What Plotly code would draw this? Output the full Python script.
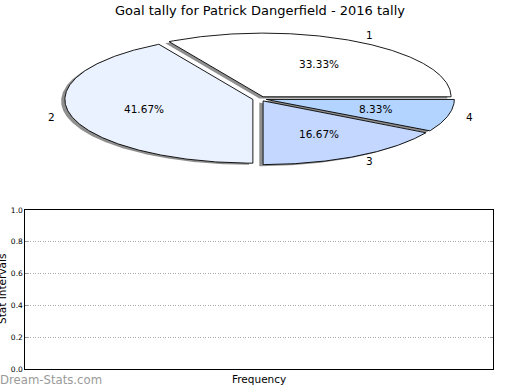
import numpy as np
import plotly.graph_objects as go

W, H = 520, 390

# ---------------- data ----------------
chart_title = "Goal tally for Patrick Dangerfield - 2016 tally"
slice_labels = ["1", "2", "3", "4"]
goal_values = [4, 5, 2, 1]
slice_colors = ["#ffffff", "#ebf2ff", "#c4d8ff", "#b3d4ff"]
ytick_vals = [0.0, 0.2, 0.4, 0.6, 0.8, 1.0]
ytick_text = ["0.0", "0.2", "0.4", "0.6", "0.8", "1.0"]
x_title = "Frequency"
y_title = "Stat Intervals"
watermark = "Dream-Stats.com"

# ---------------- style ----------------
FONT = "DejaVu Sans"
EXPLODE = 0.037
LABEL_DIST = 1.1
PCT_DIST = 0.6
SHADOW_DX, SHADOW_DY = -0.02, -0.025
SHADOW_COLOR = "#8f8f8f"


def px(x):
    return x / W


def py(y):
    return 1 - y / H


# pie axes placement (pixel geometry of the unit circle)
cx, cy, rx, ry = 259.6, 98.85, 188.0, 63.7
LIM = 1.3
pie_xdom = [px(cx - LIM * rx), px(cx + LIM * rx)]
pie_ydom = [py(cy + LIM * ry), py(cy - LIM * ry)]

fig = go.Figure()

total = float(sum(goal_values))
theta0 = 0.0
wedges = []
annots = []
for lab, v, col in zip(slice_labels, goal_values, slice_colors):
    frac = v / total
    t1 = theta0 + 360.0 * frac
    mid = np.deg2rad((theta0 + t1) / 2)
    ox, oy = EXPLODE * np.cos(mid), EXPLODE * np.sin(mid)
    n = max(2, int(abs(t1 - theta0) * 2) + 1)
    ang = np.deg2rad(np.linspace(theta0, t1, n))
    xs = np.concatenate([[ox], ox + np.cos(ang), [ox]])
    ys = np.concatenate([[oy], oy + np.sin(ang), [oy]])
    wedges.append((xs, ys, col))
    # outer label
    lx = ox + LABEL_DIST * np.cos(mid)
    ly = oy + LABEL_DIST * np.sin(mid)
    right_side = lx > 0
    annots.append(dict(x=lx, y=ly, xref="x2", yref="y2", text=lab, showarrow=False,
                       xanchor="left" if right_side else "right", yanchor="middle",
                       xshift=-2.5 if right_side else 4, yshift=1,
                       font=dict(family=FONT, size=10.5, color="black")))
    # percentage label
    tx = ox + PCT_DIST * np.cos(mid)
    ty = oy + PCT_DIST * np.sin(mid)
    annots.append(dict(x=tx, y=ty, xref="x2", yref="y2", text=f"{100 * frac:.2f}%",
                       showarrow=False, xanchor="center", yanchor="middle",
                       font=dict(family=FONT, size=10.5, color="black")))
    theta0 = t1

# shadows first (below all wedges)
for xs, ys, col in wedges:
    fig.add_trace(go.Scatter(x=xs + SHADOW_DX, y=ys + SHADOW_DY, xaxis="x2", yaxis="y2",
                             mode="lines", fill="toself", fillcolor=SHADOW_COLOR,
                             line=dict(width=0, color=SHADOW_COLOR),
                             hoverinfo="skip", showlegend=False))
for xs, ys, col in wedges:
    fig.add_trace(go.Scatter(x=xs, y=ys, xaxis="x2", yaxis="y2",
                             mode="lines", fill="toself", fillcolor=col,
                             line=dict(width=0.9, color="black"),
                             hoverinfo="skip", showlegend=False))

# empty bottom axes need a (invisible) trace to exist
fig.add_trace(go.Scatter(x=[None], y=[None], xaxis="x", yaxis="y",
                         mode="markers", showlegend=False, hoverinfo="skip"))

annots += [
    dict(x=px(260), y=py(10), xref="paper", yref="paper", text=chart_title,
         showarrow=False, xanchor="center", yanchor="middle",
         font=dict(family=FONT, size=13, color="black")),
    dict(x=px(259.3), y=py(379), xref="paper", yref="paper", text=x_title,
         showarrow=False, xanchor="center", yanchor="middle",
         font=dict(family=FONT, size=10.5, color="black")),
    dict(x=px(1.5), y=py(289.5), xref="paper", yref="paper", text=y_title,
         showarrow=False, xanchor="center", yanchor="middle", textangle=-90,
         font=dict(family=FONT, size=10.5, color="black")),
    dict(x=px(0), y=py(379.5), xref="paper", yref="paper", text=watermark,
         showarrow=False, xanchor="left", yanchor="middle", xshift=-2,
         font=dict(family=FONT, size=11.7, color="#9a9a9a")),
]

fig.update_layout(
    width=W, height=H,
    margin=dict(l=0, r=0, t=0, b=0),
    paper_bgcolor="white", plot_bgcolor="white",
    showlegend=False,
    font=dict(family=FONT, color="black"),
    xaxis=dict(domain=[px(25.3), px(492.7)], range=[0, 1], anchor="y",
               showticklabels=False, showgrid=False, zeroline=False,
               showline=True, linecolor="black", linewidth=1, mirror=True,
               ticks="", fixedrange=True, automargin=False),
    yaxis=dict(domain=[py(369.3), py(210)], range=[0, 1], anchor="x",
               tickvals=ytick_vals, ticktext=ytick_text,
               tickfont=dict(family=FONT, size=7.5, color="black"),
               showgrid=True, gridcolor="#aaaaaa", griddash="1px,1.5px", gridwidth=1,
               zeroline=False, showline=True, linecolor="black", linewidth=1,
               mirror="ticks", ticks="inside", ticklen=3, tickcolor="#999999",
               fixedrange=True, automargin=False),
    xaxis2=dict(domain=pie_xdom, range=[-LIM, LIM], anchor="y2", visible=False,
                fixedrange=True),
    yaxis2=dict(domain=pie_ydom, range=[-LIM, LIM], anchor="x2", visible=False,
                fixedrange=True),
    annotations=annots,
)

fig.write_html("out.html", config={"displayModeBar": False},
               post_script="document.body.style.margin='0';document.body.style.padding='0';")
